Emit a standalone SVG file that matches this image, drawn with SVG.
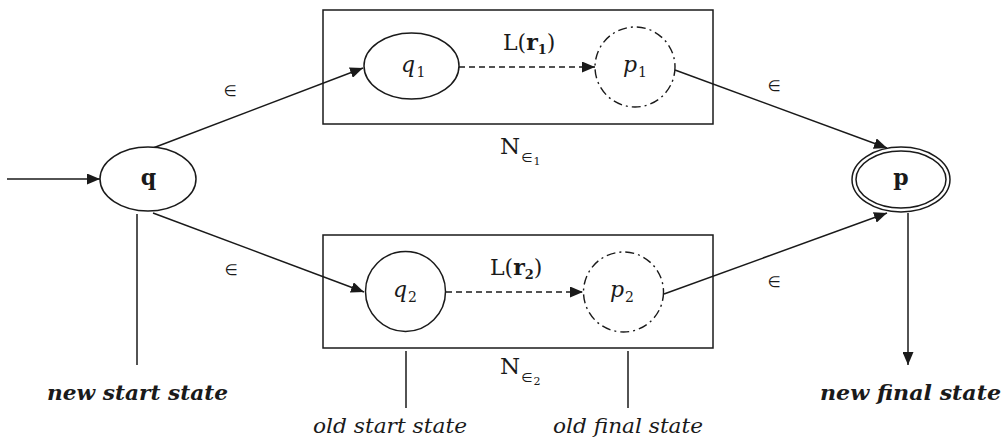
<svg xmlns="http://www.w3.org/2000/svg" width="1008" height="437" viewBox="0 0 1008 437">
<style>
.ln{stroke:#1a1a1a;stroke-width:1.5;fill:none}
.st{stroke:#1a1a1a;stroke-width:1.5;fill:#fff}
.dd{stroke:#1a1a1a;stroke-width:1.4;fill:#fff;stroke-dasharray:9 4 2 4}
.dash{stroke-dasharray:6 4}
.serif{font-family:"DejaVu Serif","Liberation Serif",serif;fill:#1a1a1a}
.math{font-family:"DejaVu Serif","Liberation Serif",serif;font-style:italic;font-size:22px;fill:#1a1a1a}
.sub{font-family:"DejaVu Serif","Liberation Serif",serif;font-size:14px;fill:#1a1a1a}
.eps{font-family:"DejaVu Sans","Liberation Sans",sans-serif;font-size:15px;fill:#1a1a1a}
.bi{font-family:"DejaVu Serif","Liberation Serif",serif;font-style:italic;font-weight:bold;font-size:20px;fill:#1a1a1a}
.it{font-family:"DejaVu Serif","Liberation Serif",serif;font-style:italic;font-size:20px;fill:#1a1a1a}
</style>
<defs>
<marker id="ah" viewBox="0 0 13 11" refX="13" refY="5.5" markerWidth="13" markerHeight="11" markerUnits="userSpaceOnUse" orient="auto">
<path d="M0,0 L13,5.5 L0,11 Z" fill="#1a1a1a"/>
</marker>
</defs>
<rect width="1008" height="437" fill="#fff"/>

<g id="box1">
<rect x="323" y="10" width="390" height="114" class="ln"/>
<text class="serif" x="500" y="154" font-size="23">N<tspan font-family="DejaVu Sans, sans-serif" font-size="13" dx="1" dy="8">∈</tspan><tspan font-size="11" dx="1" dy="3">1</tspan></text>
</g>
<g id="box2">
<rect x="323" y="235" width="390" height="113" class="ln"/>
<text class="serif" x="500" y="374" font-size="23">N<tspan font-family="DejaVu Sans, sans-serif" font-size="13" dx="1" dy="8">∈</tspan><tspan font-size="11" dx="1" dy="3">2</tspan></text>
</g>

<g id="connectors">
<line x1="7" y1="179" x2="100" y2="179" class="ln" marker-end="url(#ah)"/>
<line x1="153" y1="148" x2="363" y2="68" class="ln" marker-end="url(#ah)"/>
<line x1="153" y1="213" x2="364" y2="292" class="ln" marker-end="url(#ah)"/>
<line x1="459" y1="67" x2="595" y2="67" class="ln dash" marker-end="url(#ah)"/>
<line x1="446" y1="292" x2="583" y2="292" class="ln dash" marker-end="url(#ah)"/>
<line x1="675" y1="70" x2="887" y2="148" class="ln" marker-end="url(#ah)"/>
<line x1="664" y1="294" x2="887" y2="213" class="ln" marker-end="url(#ah)"/>
<line x1="908" y1="213" x2="908" y2="365" class="ln" marker-end="url(#ah)"/>
<line x1="137" y1="214" x2="137" y2="365" class="ln"/>
<line x1="406" y1="351" x2="406" y2="408" class="ln"/>
<line x1="628" y1="351" x2="628" y2="408" class="ln"/>
<text class="eps" x="230" y="96" text-anchor="middle">∈</text>
<text class="eps" x="231" y="275" text-anchor="middle">∈</text>
<text class="eps" x="774" y="91" text-anchor="middle">∈</text>
<text class="eps" x="774" y="287" text-anchor="middle">∈</text>
<text class="serif" x="503" y="50" font-size="22">L(<tspan font-weight="bold">r</tspan><tspan font-weight="bold" font-size="13" dy="4">1</tspan><tspan dy="-4">)</tspan></text>
<text class="serif" x="490" y="275" font-size="22">L(<tspan font-weight="bold">r</tspan><tspan font-weight="bold" font-size="13" dy="4">2</tspan><tspan dy="-4">)</tspan></text>
</g>

<g id="q">
<ellipse cx="148" cy="179" rx="48" ry="32" class="st"/>
<text class="serif" x="148.5" y="185" font-size="22" font-weight="bold" text-anchor="middle">q</text>
</g>
<g id="q1">
<ellipse cx="411.5" cy="66" rx="47.5" ry="33" class="st"/>
<text class="math" x="401" y="72">q</text>
<text class="sub" x="416.5" y="77">1</text>
</g>
<g id="p1">
<circle cx="635" cy="67" r="40" class="dd"/>
<text class="math" x="623" y="72">p</text>
<text class="sub" x="638" y="77">1</text>
</g>
<g id="q2">
<circle cx="405.5" cy="291.5" r="40" class="st"/>
<text class="math" x="393" y="297">q</text>
<text class="sub" x="408" y="302">2</text>
</g>
<g id="p2">
<circle cx="623.5" cy="292" r="40" class="dd"/>
<text class="math" x="610" y="297">p</text>
<text class="sub" x="625" y="302">2</text>
</g>
<g id="p">
<ellipse cx="901" cy="179.5" rx="49" ry="32.5" class="st"/>
<ellipse cx="901" cy="179.5" rx="45" ry="28.5" class="ln"/>
<text class="serif" x="901" y="185" font-size="22" font-weight="bold" text-anchor="middle">p</text>
</g>

<g id="labels">
<text class="bi" x="137.5" y="400" text-anchor="middle" textLength="181" lengthAdjust="spacingAndGlyphs">new start state</text>
<text class="bi" x="910.5" y="400" text-anchor="middle" textLength="181" lengthAdjust="spacingAndGlyphs">new final state</text>
<text class="it" x="390" y="433" text-anchor="middle" textLength="154" lengthAdjust="spacingAndGlyphs">old start state</text>
<text class="it" x="628" y="433" text-anchor="middle" textLength="150" lengthAdjust="spacingAndGlyphs">old final state</text>
</g>
</svg>
